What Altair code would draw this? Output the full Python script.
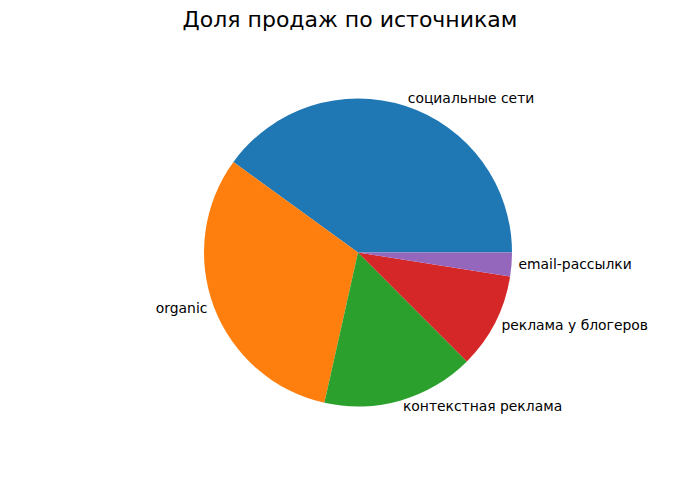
import math
import altair as alt
import pandas as pd

title_text = "Доля продаж по источникам"
sources = ["социальные сети", "organic", "контекстная реклама", "реклама у блогеров", "email-рассылки"]
shares = [40, 31.5, 16, 10, 2.5]
colors = ["#1f77b4", "#ff7f0e", "#2ca02c", "#d62728", "#9467bd"]
left_side = ["organic"]

df = pd.DataFrame({"idx": list(range(len(sources))), "source": sources, "share": shares})
total = float(sum(shares))

CX, CY, R = 350, 244.5, 154
LR = 161
FONT = "DejaVu Sans"

theta_scale = alt.Scale(domain=[0, total], range=[2.5 * math.pi, 0.5 * math.pi])

base = (
    alt.Chart(df)
    .transform_window(cum="sum(share)", sort=[{"field": "idx"}], frame=[None, 0])
    .transform_calculate(start="datum.cum - datum.share", mid="datum.cum - datum.share / 2")
)

arcs = base.mark_arc(strokeWidth=0).encode(
    theta=alt.Theta("start:Q", scale=theta_scale),
    theta2="cum:Q",
    color=alt.Color("source:N", scale=alt.Scale(domain=sources, range=colors), legend=None),
    x=alt.value(CX),
    y=alt.value(CY),
    radius=alt.value(R),
)

def labels(align, cond):
    return base.transform_filter(cond).mark_text(
        align=align, baseline="middle", font=FONT, fontSize=13.9, color="black"
    ).encode(
        theta=alt.Theta("mid:Q", scale=theta_scale),
        radius=alt.value(LR),
        x=alt.value(CX),
        y=alt.value(CY),
        text="source:N",
    )

left_labels = labels("right", alt.FieldOneOfPredicate(field="source", oneOf=left_side))
right_labels = labels("left", {"not": alt.FieldOneOfPredicate(field="source", oneOf=left_side)})

title = alt.Chart(pd.DataFrame({"t": [title_text]})).mark_text(
    align="center", baseline="middle", font=FONT, fontSize=22, color="black"
).encode(text="t:N", x=alt.value(342), y=alt.value(12))

chart = (
    alt.layer(arcs, left_labels, right_labels, title)
    .properties(width=684, height=484, autosize=alt.AutoSizeParams(type="none"), padding=0)
    .configure_view(stroke=None)
)

chart.save("out.html", embed_options={"renderer": "svg", "actions": False})
